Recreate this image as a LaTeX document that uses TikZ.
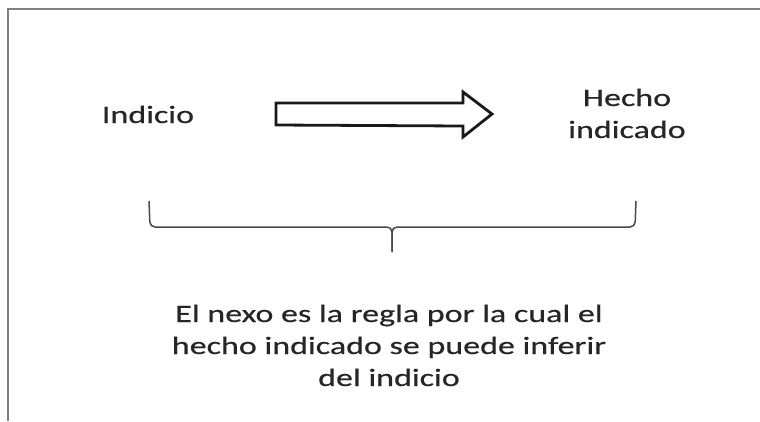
\documentclass[tikz,border=0pt]{standalone}
\usepackage{fontspec}
\setmainfont{Carlito}[FakeStretch=1.36, FakeBold=0.4]
\usetikzlibrary{calc}
\definecolor{textgray}{HTML}{262626}
\definecolor{linegray}{HTML}{4A4A4A}
\definecolor{framegray}{HTML}{808080}
\tikzset{
  etiqueta/.style={text=textgray, font=\fontsize{25}{32}\selectfont, inner sep=0pt, anchor=base, align=center},
  flecha/.style={draw=black!90, line width=2.8pt, line join=miter, fill=white},
  llave/.style={draw=linegray, line width=1.5pt, rounded corners=5pt}
}
\begin{document}
\begin{tikzpicture}[x=1pt,y=-1pt]
\useasboundingbox (0,0) rectangle (760,421);
\draw[framegray, line width=1.8pt] (8,421) -- (8,9) -- (760,9);
\node[etiqueta] (indicio) at (148,123) {Indicio};
\node[etiqueta] (hecho) at (627,138) {Hecho\\indicado};
\node[etiqueta] (nexo) at (389,386) {El nexo es la regla por la cual el\\hecho indicado se puede inferir\\del indicio};
\coordinate (A) at (276,114);
\coordinate (B) at (492,114);
\draw[flecha] ($(A)+(0,-11)$) -- ++(187,0) -- ++(0,-11) -- (B) -- ++(-29,23) -- ++(0,-11) -- ($(A)+(0,11)$) -- cycle;
\coordinate (L) at (149,201);
\coordinate (Lb) at (150,227);
\coordinate (R) at (636,201);
\coordinate (Rb) at (635,227);
\coordinate (M) at (392,227);
\coordinate (Mp) at (392,252);
\draw[llave] (L) -- (Lb) -- (M) -- (Mp);
\draw[llave] (R) -- (Rb) -- (M) -- (Mp);
\end{tikzpicture}
\end{document}
